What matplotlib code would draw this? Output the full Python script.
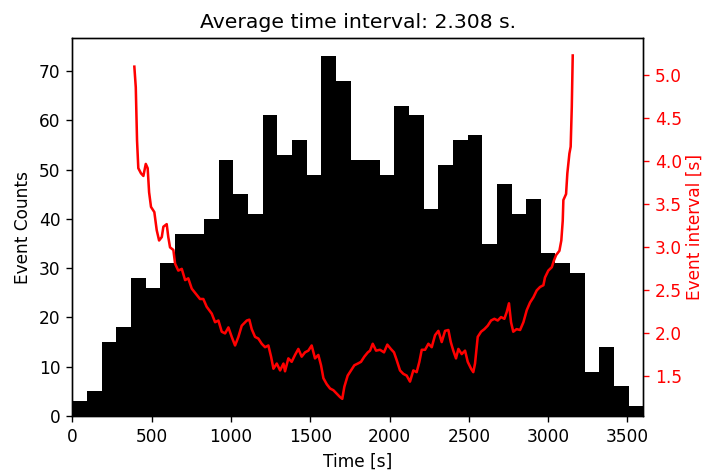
import numpy as np
import matplotlib
matplotlib.use('Agg')
import matplotlib.pyplot as plt

# histogram counts (39 bins between 0 and 3600 s)
counts = [3, 5, 15, 18, 28, 26, 31, 37, 37, 40, 52, 45, 41, 61, 53, 56, 49, 73, 68,
          52, 52, 49, 63, 61, 42, 51, 56, 57, 35, 47, 41, 44, 33, 31, 29, 9, 14, 6, 2]
t_inicio = 0
t_fin = 3600

# rolling event interval
tiempos = [391, 400, 408, 416, 433, 448, 463, 475, 484, 496, 517, 532, 547, 564, 574,
           595, 605, 616, 637, 648, 668, 690, 711, 731, 753, 805, 826, 847, 879, 900,
           921, 942, 963, 984, 1005, 1026, 1047, 1068, 1100, 1116, 1131, 1152, 1173,
           1194, 1215, 1236, 1253, 1268, 1289, 1310, 1331, 1341, 1362, 1383, 1404,
           1425, 1446, 1467, 1488, 1509, 1530, 1551, 1568, 1583, 1604, 1625, 1646,
           1667, 1688, 1702, 1715, 1736, 1757, 1778, 1800, 1820, 1841, 1863, 1877,
           1894, 1915, 1940, 1965, 1986, 2008, 2028, 2045, 2066, 2087, 2108, 2129,
           2150, 2171, 2188, 2203, 2224, 2245, 2266, 2287, 2308, 2329, 2350, 2371,
           2386, 2402, 2419, 2434, 2455, 2476, 2493, 2514, 2528, 2539, 2556, 2577,
           2598, 2619, 2640, 2661, 2682, 2703, 2724, 2739, 2753, 2766, 2780, 2801,
           2823, 2844, 2865, 2886, 2907, 2928, 2949, 2970, 2980, 3001, 3023, 3037,
           3050, 3071, 3083, 3092, 3096, 3113, 3121, 3134, 3142, 3149, 3155]
intervalos = [5.10, 4.86, 4.24, 3.92, 3.86, 3.83, 3.97, 3.92, 3.64, 3.47, 3.41, 3.20,
              3.08, 3.12, 3.24, 3.27, 3.12, 3.00, 2.97, 2.81, 2.73, 2.75, 2.62, 2.64,
              2.52, 2.40, 2.40, 2.31, 2.23, 2.13, 2.15, 2.02, 2.00, 2.07, 1.96, 1.86,
              1.96, 2.09, 2.15, 2.16, 2.05, 1.96, 1.94, 1.88, 1.84, 1.86, 1.73, 1.59,
              1.65, 1.57, 1.65, 1.56, 1.71, 1.67, 1.75, 1.82, 1.73, 1.78, 1.80, 1.86,
              1.71, 1.75, 1.63, 1.48, 1.41, 1.36, 1.34, 1.30, 1.26, 1.24, 1.38, 1.51,
              1.57, 1.63, 1.65, 1.67, 1.73, 1.78, 1.80, 1.88, 1.80, 1.81, 1.78, 1.87,
              1.82, 1.78, 1.69, 1.57, 1.53, 1.51, 1.44, 1.57, 1.55, 1.67, 1.81, 1.81,
              1.88, 1.84, 1.98, 2.03, 1.90, 2.03, 2.04, 1.90, 1.80, 1.71, 1.82, 1.76,
              1.80, 1.67, 1.59, 1.55, 1.65, 1.96, 2.02, 2.05, 2.09, 2.15, 2.17, 2.15,
              2.19, 2.17, 2.25, 2.35, 2.13, 2.02, 2.05, 2.04, 2.13, 2.27, 2.36, 2.42,
              2.50, 2.54, 2.56, 2.65, 2.73, 2.77, 2.85, 2.91, 2.96, 3.08, 3.31, 3.55,
              3.62, 3.86, 4.09, 4.17, 4.63, 5.23]

intervalo_medio = 2.308

bordes = np.linspace(t_inicio, t_fin, len(counts) + 1)

# figura a dpi mas alto para que las fuentes queden como en la original
dpi = 122
fig = plt.figure(figsize=(705 / dpi, 470 / dpi), dpi=dpi)
ax = fig.add_axes([0.1026, 0.1149, 0.8099, 0.8036])

# histograma de eventos
ax.stairs(counts, bordes, fill=True, color='black')
ax.set_xlim(t_inicio, t_fin)
ax.set_ylim(bottom=0)
ax.set_xlabel('Time [s]')
ax.set_ylabel('Event Counts')
ax.set_title(f'Average time interval: {intervalo_medio} s.')

# intervalo entre eventos
ax2 = ax.twinx()
ax2.plot(tiempos, intervalos, color='red', lw=1.5)
ax2.set_ylabel('Event interval [s]', color='red', labelpad=2)
ax2.tick_params(axis='y', colors='red')

fig.savefig('out.png', dpi=dpi)
